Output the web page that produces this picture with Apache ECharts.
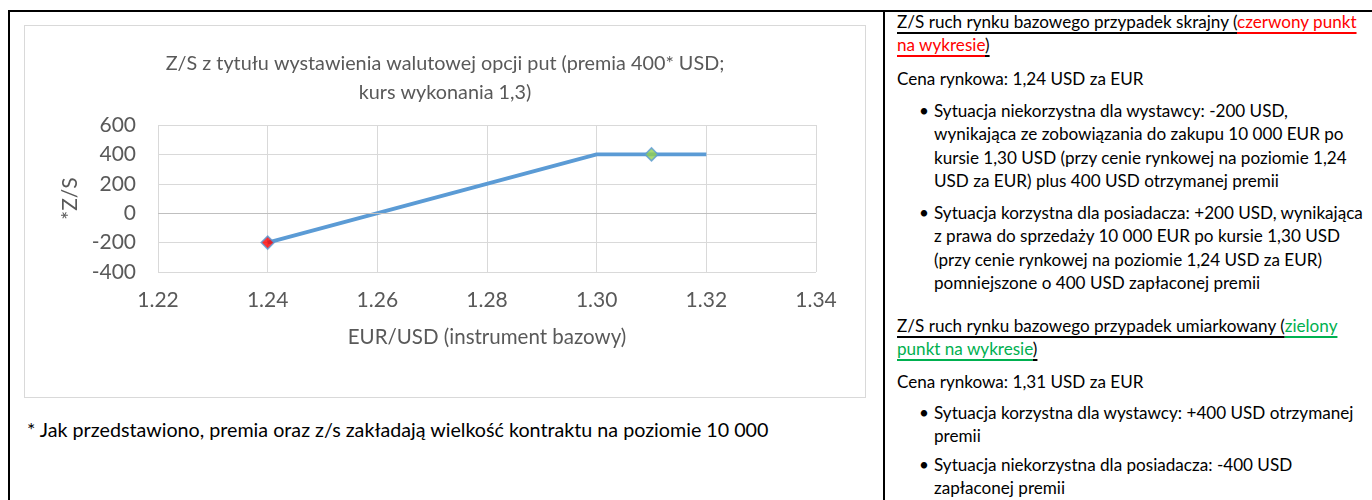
<!DOCTYPE html>
<html>
<head>
<meta charset="utf-8">
<script src="https://cdn.jsdelivr.net/npm/echarts@6/dist/echarts.min.js"></script>
<style>
  html, body { margin: 0; padding: 0; background: #fff; }
  body { width: 1372px; height: 500px; position: relative; overflow: hidden; font-family: Lato, "Open Sans", sans-serif; }
  #topline { position: absolute; left: 8px; top: 10px; width: 1364px; height: 2px; background: #000; }
  #leftline { position: absolute; left: 8px; top: 10px; width: 2px; height: 490px; background: #000; }
  #midline { position: absolute; left: 883px; top: 10px; width: 2px; height: 490px; background: #000; }
  #chartbox { position: absolute; left: 24px; top: 25px; width: 840px; height: 371px; border: 1px solid #d9d9d9; }
  #chart { width: 840px; height: 371px; }
  #foot { position: absolute; left: 27px; top: 417px; font-size: 19.7px; line-height: 26px; color: #000; white-space: nowrap; }
  .blk { position: absolute; left: 897px; font-size: 17.1px; line-height: 23.4px; color: #000; white-space: nowrap; }
  .ul, .red, .green { text-decoration: underline; text-decoration-thickness: 1.5px; text-underline-offset: 4px; text-decoration-skip-ink: none; }
  .red { color: #ff0000; }
  .green { color: #00b050; }
  .bul { left: 934px; }
  .dot { position: absolute; left: -15px; top: 0; }
</style>
</head>
<body>
<div id="topline"></div>
<div id="leftline"></div>
<div id="midline"></div>
<div id="chartbox"><div id="chart"></div></div>
<div id="foot">* Jak przedstawiono, premia oraz z/s zakładają wielkość kontraktu na poziomie 10 000</div>

<div class="blk" style="top:10px"><span class="ul">Z/S ruch rynku bazowego przypadek skrajny (</span><span class="red">czerwony punkt</span><br><span class="red">na wykresie</span><span class="ul">)</span></div>
<div class="blk" style="top:67px">Cena rynkowa: 1,24 USD za EUR</div>
<div class="blk bul" style="top:99px"><span class="dot">•</span>Sytuacja niekorzystna dla wystawcy: -200 USD,<br>wynikająca ze zobowiązania do zakupu 10 000 EUR po<br>kursie 1,30 USD (przy cenie rynkowej na poziomie 1,24<br>USD za EUR) plus 400 USD otrzymanej premii</div>
<div class="blk bul" style="top:201px"><span class="dot">•</span>Sytuacja korzystna dla posiadacza: +200 USD, wynikająca<br>z prawa do sprzedaży 10 000 EUR po kursie 1,30 USD<br>(przy cenie rynkowej na poziomie 1,24 USD za EUR)<br>pomniejszone o 400 USD zapłaconej premii</div>
<div class="blk" style="top:314px"><span class="ul">Z/S ruch rynku bazowego przypadek umiarkowany (</span><span class="green">zielony</span><br><span class="green">punkt na wykresie</span><span class="ul">)</span></div>
<div class="blk" style="top:370px">Cena rynkowa: 1,31 USD za EUR</div>
<div class="blk bul" style="top:401px"><span class="dot">•</span>Sytuacja korzystna dla wystawcy: +400 USD otrzymanej<br>premii</div>
<div class="blk bul" style="top:453px"><span class="dot">•</span>Sytuacja niekorzystna dla posiadacza: -400 USD<br>zapłaconej premii</div>

<script>
// Data
const titleText = 'Z/S z tytułu wystawienia walutowej opcji put (premia 400* USD;\nkurs wykonania 1,3)';
const xAxisName = 'EUR/USD (instrument bazowy)';
const yAxisName = '*Z/S';
const payoffX = [1.24, 1.30, 1.32];
const payoffY = [-200, 400, 400];
const extremePoint = [1.24, -200];   // red
const moderatePoint = [1.31, 400];   // green
const xMin = 1.22, xMax = 1.34, xStep = 0.02;
const yMin = -400, yMax = 600, yStep = 200;

const chart = echarts.init(document.getElementById('chart'), null, { renderer: 'canvas' });
const grey = '#595959';
const font = 'Lato, "Open Sans", sans-serif';
chart.setOption({
  animation: false,
  title: {
    text: titleText,
    left: 'center',
    top: 18,
    textStyle: { color: grey, fontSize: 19.8, fontWeight: 'normal', fontFamily: font, lineHeight: 29 }
  },
  grid: { left: 133, right: 49, top: 99, bottom: 125 },
  xAxis: {
    type: 'value', min: xMin, max: xMax, interval: xStep,
    name: xAxisName, nameLocation: 'middle', nameGap: 55,
    nameTextStyle: { color: grey, fontSize: 20.5, fontFamily: font },
    axisLine: { show: false }, axisTick: { show: false },
    axisLabel: { color: grey, fontSize: 21, fontFamily: font, margin: 18, formatter: v => v.toFixed(2) },
    splitLine: { show: true, lineStyle: { color: '#d9d9d9', width: 1 } }
  },
  yAxis: {
    type: 'value', min: yMin, max: yMax, interval: yStep,
    name: yAxisName, nameLocation: 'middle', nameGap: 77, nameRotate: 90,
    nameTextStyle: { color: grey, fontSize: 21, fontFamily: font },
    axisLine: { show: false }, axisTick: { show: false },
    axisLabel: { color: grey, fontSize: 21, fontFamily: font, margin: 22 },
    splitLine: { show: true, lineStyle: { color: '#d9d9d9', width: 1 } }
  },
  series: [
    {
      type: 'line',
      data: payoffX.map((x, i) => [x, payoffY[i]]),
      symbol: 'none',
      lineStyle: { color: '#5b9bd5', width: 3.8 },
      markLine: {
        silent: true, symbol: 'none', label: { show: false },
        lineStyle: { color: '#bfbfbf', width: 1, type: 'solid' },
        data: [{ yAxis: 0 }]
      },
      z: 2
    },
    {
      type: 'scatter',
      data: [extremePoint],
      symbol: 'diamond', symbolSize: 13,
      itemStyle: { color: '#ff0000', borderColor: '#5b9bd5', borderWidth: 1.5 },
      z: 3
    },
    {
      type: 'scatter',
      data: [moderatePoint],
      symbol: 'diamond', symbolSize: 13,
      itemStyle: { color: '#92d050', borderColor: '#5b9bd5', borderWidth: 1.5 },
      z: 3
    }
  ]
});
</script>
</body>
</html>
